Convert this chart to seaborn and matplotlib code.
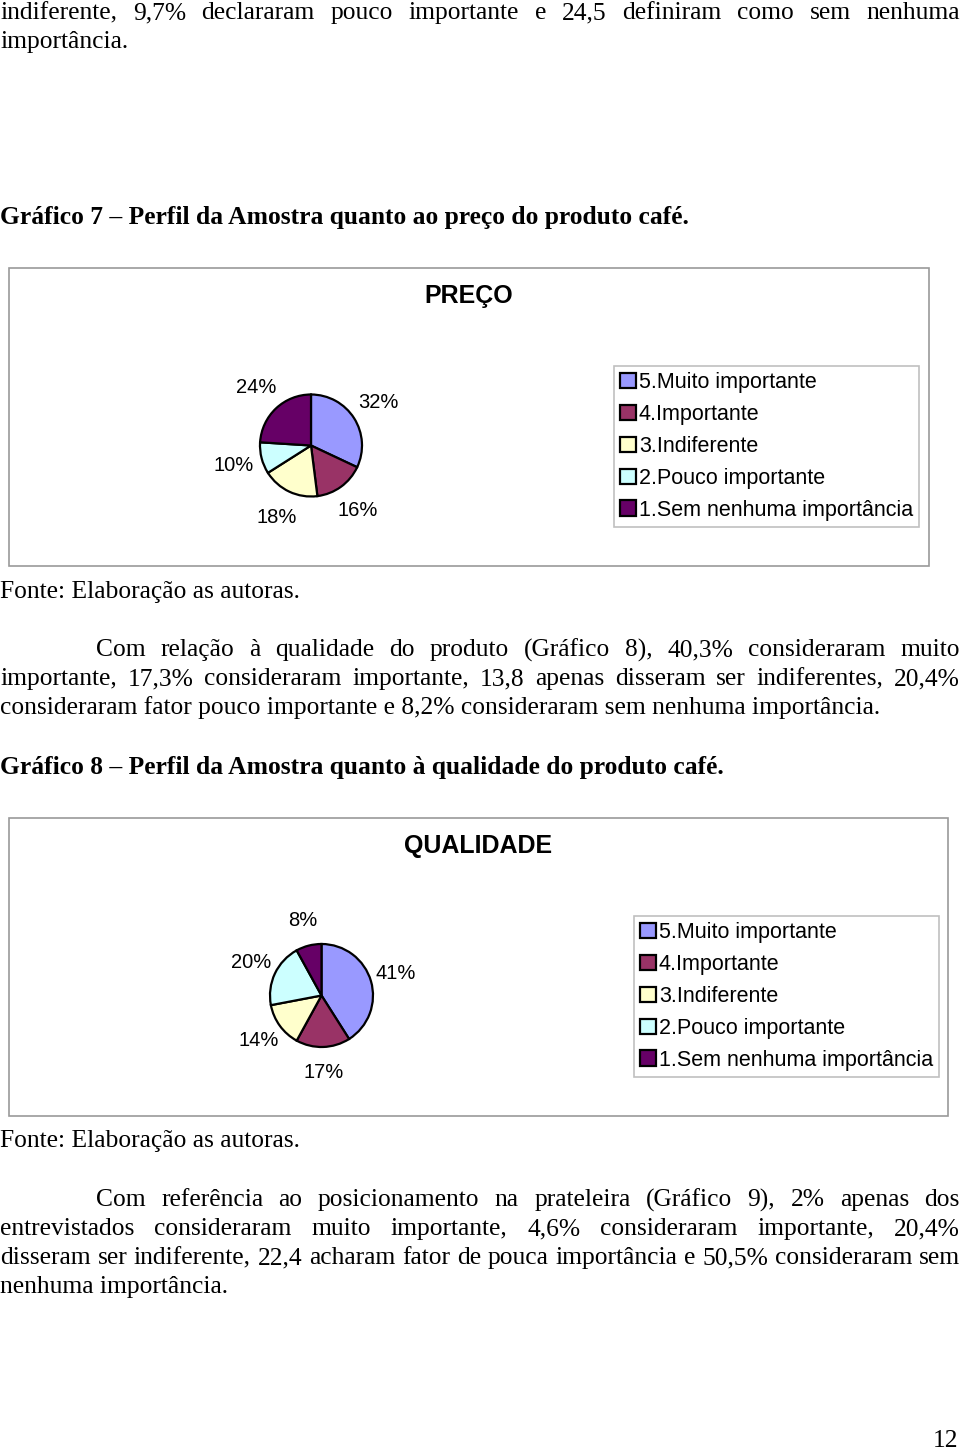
import matplotlib
matplotlib.use("Agg")
import matplotlib.pyplot as plt
import seaborn as sns
from matplotlib.patches import Rectangle

# ---------------- data ----------------
categorias = ["5.Muito importante", "4.Importante", "3.Indiferente",
              "2.Pouco importante", "1.Sem nenhuma importância"]
preco = [32, 16, 18, 10, 24]
qualidade = [41, 17, 14, 20, 8]
cores = ["#9999FF", "#993366", "#FFFFCC", "#CCFFFF", "#660066"]
titulo_preco = "PREÇO"
titulo_qualidade = "QUALIDADE"

# ---------------- style ----------------
sns.set_theme(style="white")
plt.rcParams["font.family"] = ["Liberation Sans", "DejaVu Sans"]
plt.rcParams["text.color"] = "black"

W, H = 960, 1450
fig = plt.figure(figsize=(9.6, 14.5), dpi=100)
fig.patch.set_facecolor("white")
bg = fig.add_axes([0, 0, 1, 1])
bg.set_xlim(0, W)
bg.set_ylim(H, 0)
bg.axis("off")
renderer = fig.canvas.get_renderer()

SERIF = ["Liberation Serif", "DejaVu Serif"]
BODY = 18.4


def line(y, text, x0=0, x1=None, bold=False, size=BODY):
    kw = dict(family=SERIF, fontsize=size, va="center", ha="left",
              fontweight="bold" if bold else "normal", color="black")
    if x1 is None:
        bg.text(x0, y, text, **kw)
        return
    words = text.split()
    ts = [bg.text(0, y, w, **kw) for w in words]
    widths = [t.get_window_extent(renderer).width for t in ts]
    gap = (x1 - x0 - sum(widths)) / (len(words) - 1)
    x = x0
    for t, w in zip(ts, widths):
        t.set_x(x)
        x += w + gap


# ---------------- body text ----------------
line(13, "indiferente, 9,7% declararam pouco importante e 24,5 definiram como sem nenhuma", 0, 960)
line(42, "importância.")
line(217, "Gráfico 7 – Perfil da Amostra quanto ao preço do produto café.", bold=True)
line(592, "Fonte: Elaboração as autoras.")
line(650, "Com relação à qualidade do produto (Gráfico 8),  40,3% consideraram muito", 96, 960)
line(679, "importante, 17,3% consideraram importante, 13,8 apenas disseram ser indiferentes, 20,4%", 0, 960)
line(708, "consideraram fator pouco importante e 8,2% consideraram sem nenhuma importância.")
line(767, "Gráfico 8 – Perfil da Amostra quanto à qualidade do produto café.", bold=True)
line(1141, "Fonte: Elaboração as autoras.")
line(1200, "Com referência ao posicionamento na prateleira (Gráfico 9), 2% apenas dos", 96, 960)
line(1229, "entrevistados consideraram muito importante, 4,6% consideraram importante, 20,4%", 0, 960)
line(1258, "disseram ser indiferente, 22,4 acharam fator de pouca importância e 50,5% consideraram sem", 0, 960)
line(1287, "nenhuma importância.")
bg.text(958, 1441, "12", family=SERIF, fontsize=BODY, va="center", ha="right", color="black")

# ---------------- chart boxes ----------------
bg.add_patch(Rectangle((9, 268), 920, 298, fill=False, edgecolor="#9a9a9a", lw=1.2))
bg.add_patch(Rectangle((9, 818), 939, 298, fill=False, edgecolor="#9a9a9a", lw=1.2))
bg.text(469, 296, titulo_preco, fontsize=18, fontweight="bold", ha="center", va="center")
bg.text(478, 846, titulo_qualidade, fontsize=18, fontweight="bold", ha="center", va="center")


def make_pie(values, cx, cy, r, pctd, leg_x, leg_y):
    m = 1.06
    s = 2 * r * m
    ax = fig.add_axes([(cx - s / 2) / W, 1 - (cy + s / 2) / H, s / W, s / H])
    wedges, _, autotexts = ax.pie(
        values, colors=cores, startangle=90, counterclock=False,
        wedgeprops=dict(edgecolor="black", linewidth=1.6),
        autopct="%.0f%%", pctdistance=pctd,
        textprops=dict(fontsize=14.5, color="black"))
    ax.set_xlim(-m, m)
    ax.set_ylim(-m, m)
    for t in autotexts:
        t.set_clip_on(False)
    leg = ax.legend(wedges, categorias, loc="upper left",
                    bbox_to_anchor=(leg_x / W, 1 - leg_y / H),
                    bbox_transform=fig.transFigure, frameon=True, fancybox=False,
                    edgecolor="#b0b0b0", fontsize=15.5, handlelength=0.7,
                    handleheight=0.7, handletextpad=0.15, labelspacing=0.5,
                    borderpad=0.3, borderaxespad=0)
    leg.get_frame().set_linewidth(1.2)
    return ax


make_pie(preco, 311, 445.5, 51, 1.57, 614, 366)
make_pie(qualidade, 321.5, 995.5, 51.5, 1.5, 634, 916)

fig.savefig("out.png", dpi=100, facecolor="white")
